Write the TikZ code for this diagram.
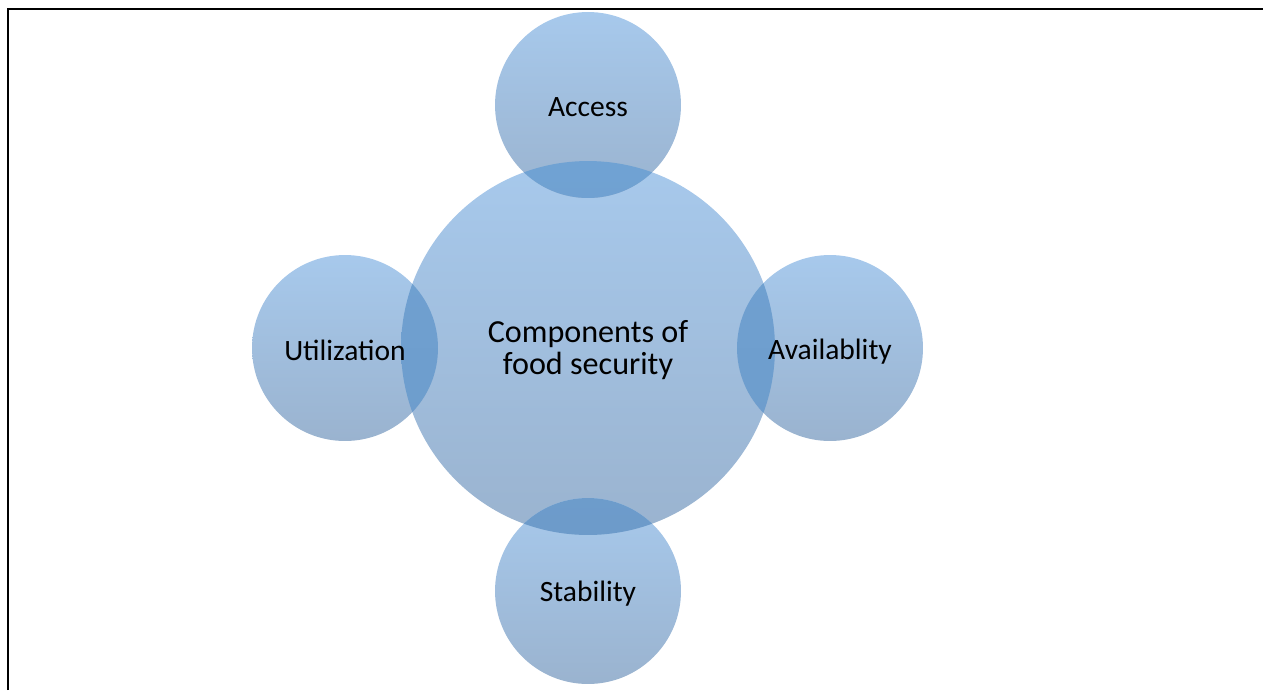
\documentclass[tikz,border=0pt]{standalone}
\usepackage{fontspec}
\setmainfont{Carlito}
\definecolor{ctop}{HTML}{A7C9EC}
\definecolor{cbot}{HTML}{9AB3CF}
\definecolor{otop}{HTML}{70A2D3}
\definecolor{obot}{HTML}{6D9BCA}
\begin{document}
\begin{tikzpicture}[x=0.02cm,y=-0.02cm,
  bubble/.style={circle, inner sep=0pt, top color=ctop, bottom color=cbot, draw=none},
  satbubble/.style={bubble, minimum size=3.72cm},
  bigbubble/.style={bubble, minimum size=7.48cm},
  lab/.style={inner sep=0pt, font=\fontsize{16.8}{18}\selectfont},
  biglab/.style={inner sep=0pt, align=center, font=\fontsize{18.3}{18.3}\selectfont},
  overlap/.style={top color=otop, bottom color=obot}]
\useasboundingbox (0,0) rectangle (1263,690);
\draw[line width=1.6pt] (8,690) -- (8,9) -- (1263,9);
% circles
\node[bigbubble] (cen) at (588,348) {};
\node[satbubble] (acc) at (588,105) {};
\node[satbubble] (sta) at (588,591) {};
\node[satbubble] (uti) at (345,348) {};
\node[satbubble] (ava) at (830,348) {};
% overlaps
\foreach \s in {acc,sta,uti,ava}{
  \begin{scope}
    \clip (\s.center) circle (1.86cm);
    \path[overlap] (cen.center) circle (3.74cm);
  \end{scope}
}
% labels
\node[biglab] (tcen) at (588,350) {Components of\\food security};
\node[lab] (tacc) at (588,107) {Access};
\node[lab] (tsta) at (588,594) {Stability};
\node[lab] (tuti) at (345,350) {Utilization};
\node[lab] (tava) at (830,352) {Availablity};
\end{tikzpicture}
\end{document}
